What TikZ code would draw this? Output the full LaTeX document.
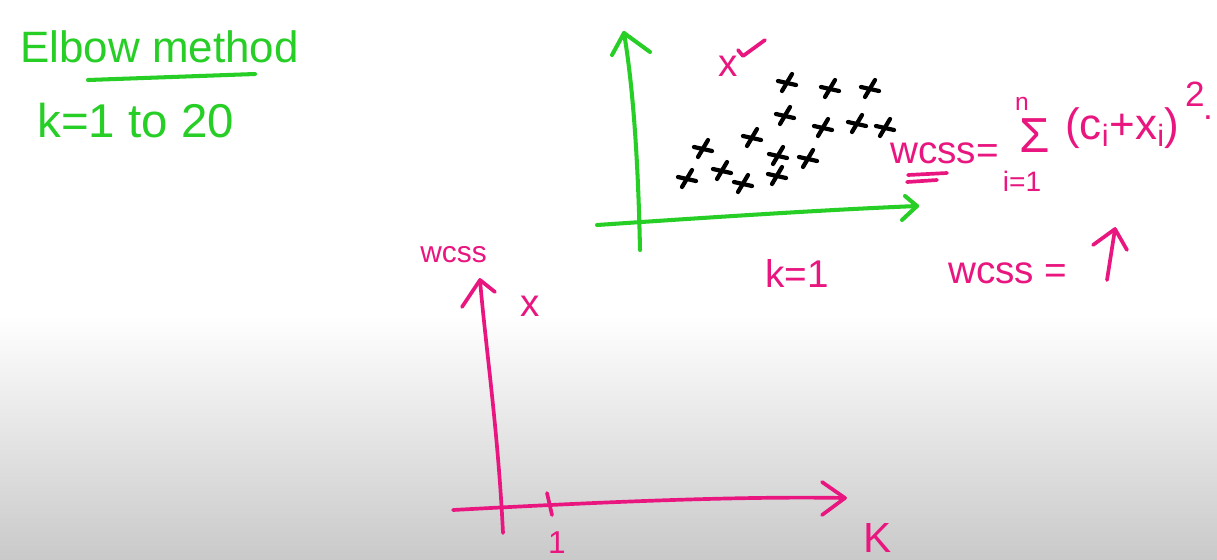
\documentclass[tikz,border=0pt]{standalone}
\usepackage{fontspec}
\setmainfont{Liberation Sans}
\definecolor{pen}{RGB}{232,22,126}
\definecolor{grn}{RGB}{38,206,38}
\tikzset{
  xmark/.pic={
    \draw[black, line width=2.4pt, line cap=round] (-9,-1) -- (9,3);
    \draw[black, line width=2.4pt, line cap=round] (-5,9) -- (5,-8);
  }
}
\begin{document}
\begin{tikzpicture}[x=0.02cm, y=-0.02cm, line cap=round, line join=round,
  gline/.style={draw=grn, line width=2.3pt},
  pline/.style={draw=pen, line width=2.1pt},
  gtext/.style={text=grn, inner sep=0pt},
  ptext/.style={text=pen, inner sep=0pt},
  fs/.style={font=\fontsize{#1}{#1}\selectfont}]

\useasboundingbox (0,0) rectangle (1217,559);
\fill[white] (0,0) rectangle (1217,559);
\shade[top color=white, bottom color=black!21] (0,315) rectangle (1217,559);

% ---- green heading ----
\node[gtext, anchor=base west, fs=25] (title) at (20,62) {Elbow method};
\coordinate (ulA) at (88,80);
\coordinate (ulB) at (255,74);
\draw[gline] (ulA) -- (ulB);
\node[gtext, anchor=base west, fs=27] (krange) at (37,137) {k=1 to 20};

% ---- green scatter axes ----
\coordinate (gvB) at (640,250);
\coordinate (gvT) at (624,33);
\coordinate (gvL) at (612,55);
\coordinate (gvR) at (650,52);
\draw[gline] (gvB) .. controls (638,150) and (632,80) .. (gvT);
\draw[gline] (gvL) -- (gvT) -- (gvR);
\coordinate (ghL) at (597,225);
\coordinate (ghR) at (917,206);
\coordinate (ghU) at (905,196);
\coordinate (ghD) at (902,220);
\draw[gline] (ghL) .. controls (700,218) and (820,210) .. (ghR);
\draw[gline] (ghU) -- (ghR) -- (ghD);

% pink x with check
\node[ptext, anchor=base, fs=22] (xcheck) at (728,76) {x};
\coordinate (ckA) at (738,50);
\coordinate (ckB) at (743,56);
\coordinate (ckC) at (765,40);
\draw[pline] (ckA) -- (ckB) -- (ckC);

% data points
\foreach \p in {(787,82),(830,88),(870,88),(785,115),(823,127),(857,123),(885,127),
                (752,137),(703,148),(778,155),(808,158),(687,178),(722,170),(743,183),(777,175)}
  \pic at \p {xmark};

\node[ptext, anchor=base west, fs=22] (k1) at (765,287) {k=1};

% ---- formula ----
\node[ptext, anchor=base west, fs=22] (wcssf) at (890,163) {wcss=};
\coordinate (du1a) at (908,175); \coordinate (du1b) at (947,173);
\coordinate (du2a) at (907,182); \coordinate (du2b) at (937,180);
\draw[pline] (du1a) -- (du1b);
\draw[pline] (du2a) -- (du2b);
\node[ptext, anchor=base, fs=28] (sig) at (1035,152) {Σ};
\node[ptext, anchor=base, fs=14] (supn) at (1022,110) {n};
\node[ptext, fs=16] (subi) at (1022,181) {i=1};
\node[ptext, anchor=west, fs=25] (term) at (1065,128) {(c\textsubscript{i}+x\textsubscript{i})};
\node[ptext, anchor=base, fs=20] (sq) at (1195,106) {2};
\node[ptext, anchor=base, fs=20] (dot) at (1208,119) {.};

\node[ptext, anchor=base west, fs=22] (wcssup) at (948,283) {wcss =};
\coordinate (upB) at (1107,280);
\coordinate (upT) at (1115,229);
\coordinate (upL) at (1093,245);
\coordinate (upR) at (1127,250);
\draw[pline] (upB) -- (upT);
\draw[pline] (upL) -- (upT) -- (upR);

% ---- pink elbow chart ----
\node[ptext, anchor=base west, fs=17] (ylab) at (420,262) {wcss};
\coordinate (pvB) at (503,533);
\coordinate (pvT) at (480,280);
\coordinate (pvL) at (462,307);
\coordinate (pvR) at (495,292);
\draw[pline] (pvB) .. controls (498,430) and (486,350) .. (pvT);
\draw[pline] (pvL) -- (pvT) -- (pvR);
\coordinate (phL) at (453,510);
\coordinate (phR) at (845,498);
\coordinate (phU) at (822,482);
\coordinate (phD) at (822,515);
\draw[pline] (phL) .. controls (600,502) and (740,496) .. (phR);
\draw[pline] (phU) -- (phR) -- (phD);
\coordinate (tkA) at (547,493);
\coordinate (tkB) at (552,515);
\draw[pline] (tkA) -- (tkB);
\node[ptext, fs=22] (pt1) at (530,306) {x};
\node[ptext, fs=18] (one) at (557,543) {1};
\node[ptext, anchor=base west, fs=24] (xlab) at (863,552) {K};

\end{tikzpicture}
\end{document}
